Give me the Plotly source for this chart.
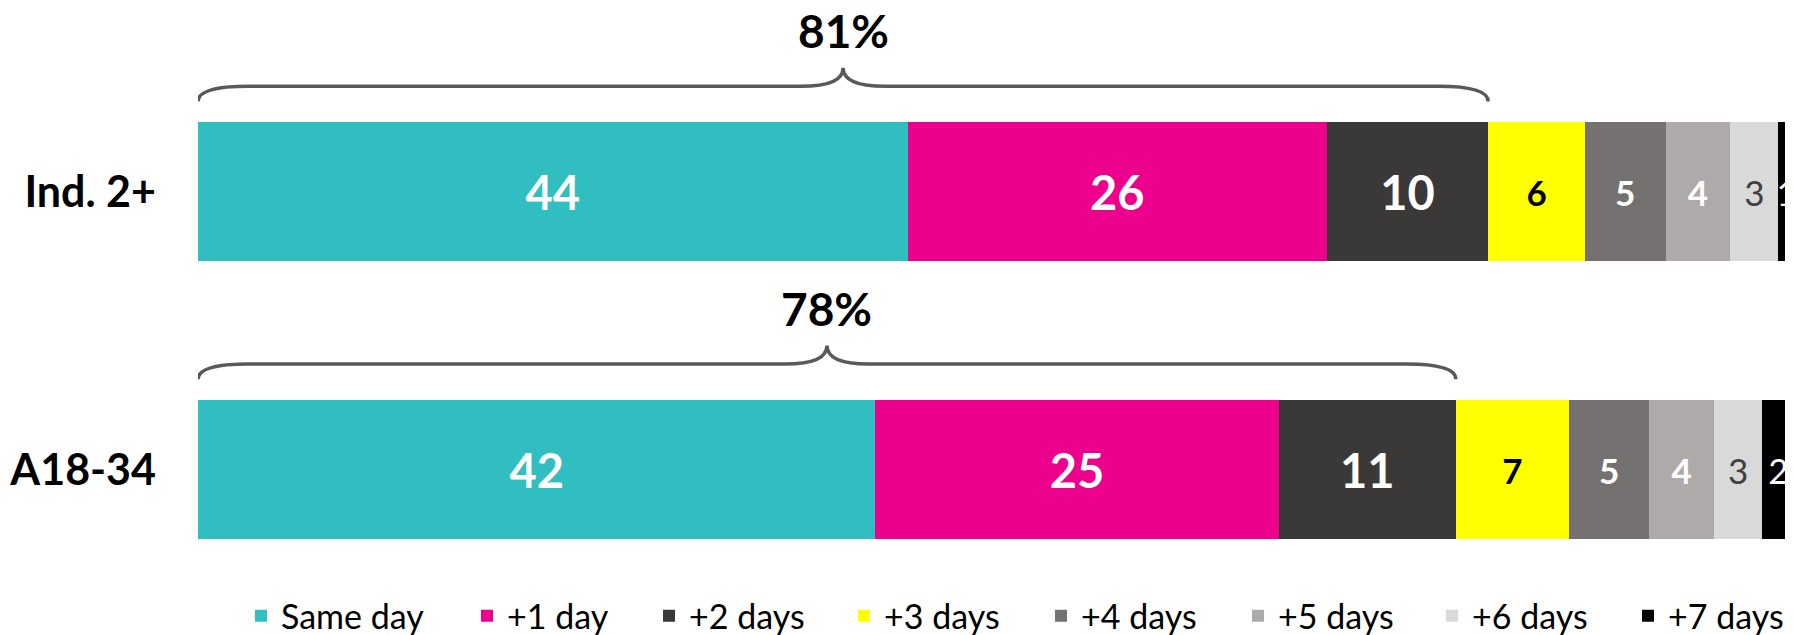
import plotly.graph_objects as go
import numpy as np

# ---- data ----
rows = ["Ind. 2+", "A18-34"]
row_pos = [1, 0]
series = ["Same day", "+1 day", "+2 days", "+3 days", "+4 days", "+5 days", "+6 days", "+7 days"]
same_day = [44, 42]
plus_1 = [26, 25]
plus_2 = [10, 11]
plus_3 = [6, 7]
plus_4 = [5, 5]
plus_5 = [4, 4]
plus_6 = [3, 3]
plus_7 = [1, 2]
brace_labels = ["81%", "78%"]

values = [same_day, plus_1, plus_2, plus_3, plus_4, plus_5, plus_6, plus_7]

# ---- styles ----
FONT = "Lato, 'Open Sans', sans-serif"
colors = ["#31BEC0", "#EC008C", "#3B3838", "#FFFF00", "#767171", "#AEAAAA", "#D9D9D9", "#000000"]
txt_colors = ["white", "white", "white", "black", "white", "white", "#404040", "white"]
txt_sizes = [47, 47, 47, 35, 35, 35, 35, 35]
txt_weights = ["bold"] * 6 + ["normal"] * 2

# the page body has an 8px margin, so the figure is drawn 8px smaller
W, H = 1785, 627
ML = 190
PLOT_W = W - ML
# left pixel (figure coords) of each legend entry (layout only)
legend_px = [233, 459, 641, 836, 1033, 1230, 1424, 1620]
legend_ids = ["legend"] + [f"legend{i}" for i in range(2, 9)]

fig = go.Figure()
for i, (name, vals, c, tc, ts, tw) in enumerate(zip(series, values, colors, txt_colors, txt_sizes, txt_weights)):
    fig.add_trace(go.Bar(
        y=row_pos, x=vals, name=name, orientation="h",
        marker=dict(color=c, line=dict(width=0)),
        text=[str(v) for v in vals],
        textposition="inside", insidetextanchor="middle",
        textangle=0, constraintext="none",
        textfont=dict(family=FONT, size=ts, color=tc, weight=tw),
        hoverinfo="skip",
        legend=legend_ids[i],
    ))

# ---- braces over the first three segments ----
cum3 = np.array(same_day) + np.array(plus_1) + np.array(plus_2)
Y_END, Y_LINE, Y_TIP, Y_LBL = 0.325, 0.38, 0.447, 0.58
D_END, D_TIP = 3.1, 2.6
for rp, x1, lbl in zip(row_pos, cum3, brace_labels):
    x0 = 0.0
    xm = (x0 + x1) / 2
    ye, yl, yt = rp + Y_END, rp + Y_LINE, rp + Y_TIP
    path = (f"M {x0},{ye} Q {x0},{yl} {x0 + D_END},{yl} L {xm - D_TIP},{yl} "
            f"Q {xm},{yl} {xm},{yt} Q {xm},{yl} {xm + D_TIP},{yl} "
            f"L {x1 - D_END},{yl} Q {x1},{yl} {x1},{ye}")
    fig.add_shape(type="path", path=path, xref="x", yref="y",
                  line=dict(color="#595959", width=3.5))
    fig.add_annotation(x=xm, y=rp + Y_LBL, xref="x", yref="y", text=lbl,
                       showarrow=False, xanchor="center", yanchor="middle",
                       font=dict(family=FONT, size=46, color="black", weight="bold"))

legends = {}
for lid, px in zip(legend_ids, legend_px):
    legends[lid] = dict(orientation="h", x=(px - ML) / PLOT_W, y=0.03,
                        xanchor="left", yanchor="middle",
                        font=dict(family=FONT, size=34, color="black"),
                        bgcolor="rgba(0,0,0,0)", borderwidth=0)

fig.update_layout(
    width=W, height=H,
    margin=dict(l=ML, r=0, t=0, b=0, pad=0, autoexpand=False),
    barmode="stack", bargap=0.5,
    plot_bgcolor="white", paper_bgcolor="white",
    showlegend=True,
    xaxis=dict(range=[0, 98.9], visible=False, fixedrange=True, automargin=False),
    yaxis=dict(range=[-0.5959, 1.6619], tickvals=row_pos, ticktext=rows,
               showgrid=False, zeroline=False, showline=False, ticks="",
               ticklabelstandoff=41, automargin=False,
               tickfont=dict(family=FONT, size=43, color="black", weight="bold")),
    **legends,
)

fig.write_html("out.html")
